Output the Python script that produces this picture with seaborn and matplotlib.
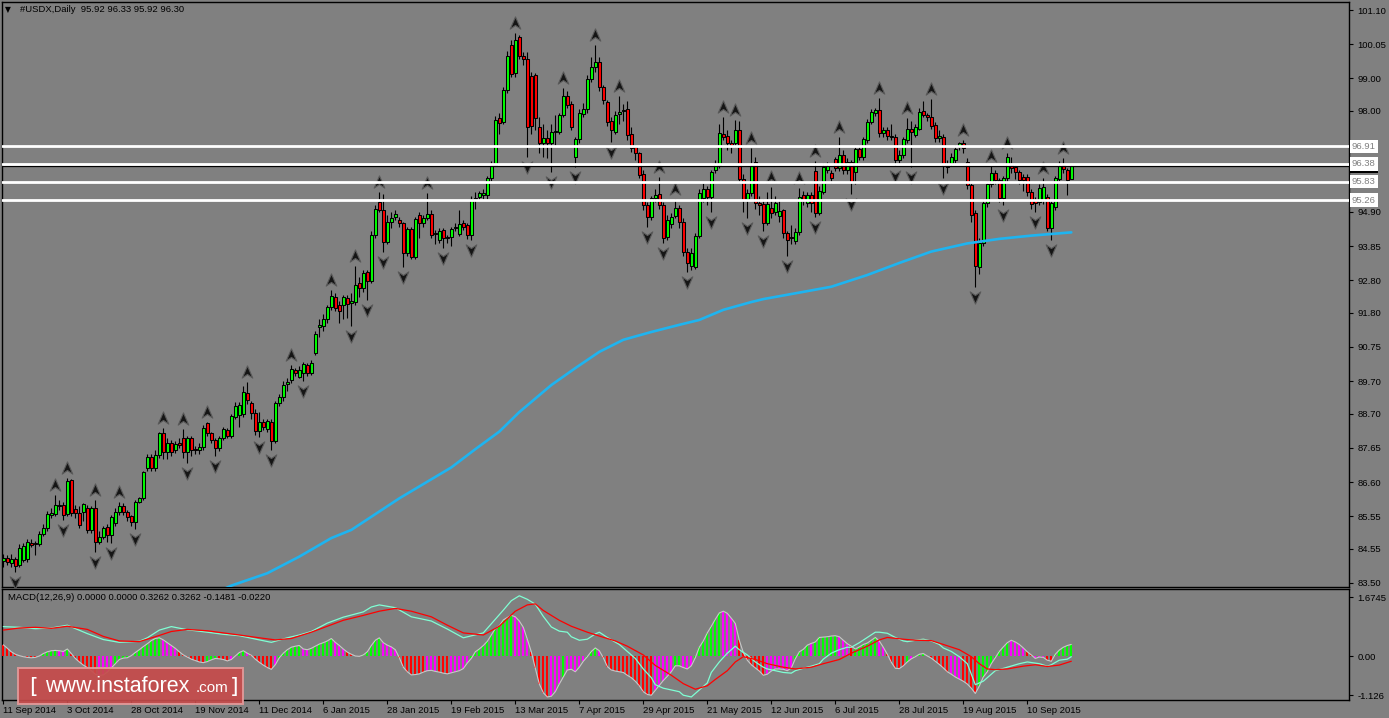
import numpy as np
import pandas as pd
import matplotlib
matplotlib.use("Agg")
import matplotlib.pyplot as plt
import matplotlib.transforms as mtransforms
from matplotlib.path import Path
from matplotlib.patches import Rectangle
import seaborn as sns

sns.set_theme(style="white")
plt.rcParams['font.family'] = ['Liberation Sans', 'DejaVu Sans']

# ---------------- data ----------------
symbol_title = "#USDX,Daily  95.92 96.33 95.92 96.30"
macd_title = "MACD(12,26,9) 0.0000 0.0000 0.3262 0.3262 -0.1481 -0.0220"

opens = [
84.19,84.26,84.10,84.23,84.05,84.21,84.23,84.74,84.72,84.70,
85.02,85.18,85.59,85.62,85.85,85.90,85.62,86.66,85.76,85.64,
85.69,85.79,85.13,85.79,84.77,84.92,85.23,84.97,85.33,85.69,
85.87,85.69,85.56,85.38,85.99,86.10,87.02,87.36,87.02,87.43,
88.12,87.53,87.81,87.58,87.81,87.94,87.53,87.94,87.63,87.58,
87.69,88.42,88.10,87.89,87.64,87.94,88.20,88.02,88.61,88.66,
88.69,89.35,89.02,88.71,88.18,88.46,88.22,88.46,87.87,89.02,
89.20,89.61,89.72,90.04,89.82,89.94,90.20,89.94,90.57,91.35,
91.39,91.60,91.99,92.30,92.04,92.04,92.24,92.11,92.14,92.71,
92.55,93.06,92.79,94.19,95.21,94.96,93.98,94.60,94.73,94.65,
94.55,93.63,94.36,93.52,94.80,94.55,94.70,94.83,94.22,94.04,
94.34,94.12,94.12,94.40,94.22,94.55,94.50,94.19,95.29,95.35,
95.42,95.42,95.93,96.34,97.77,97.67,98.64,100.03,99.16,100.28,
99.69,99.59,99.07,99.10,97.50,97.00,97.16,97.00,97.35,97.36,
97.87,98.46,98.21,96.60,97.13,97.90,98.05,98.97,99.36,99.51,
98.74,98.28,97.70,97.36,97.91,98.00,98.05,97.29,96.90,96.70,
96.06,95.11,94.75,95.32,95.45,95.11,94.14,94.53,94.77,95.01,
94.60,93.68,93.24,93.22,94.16,95.32,95.59,95.37,96.19,96.34,
97.29,97.23,97.03,97.00,97.41,95.90,95.29,95.49,96.44,95.18,
95.14,94.57,95.01,94.91,94.77,94.96,94.24,94.14,93.99,94.29,
95.42,95.16,95.42,96.15,94.85,95.52,96.20,96.08,96.51,96.24,
96.65,96.18,96.44,96.13,96.82,96.59,97.10,97.67,97.93,98.03,
97.31,97.41,97.20,97.19,96.50,96.65,97.11,97.46,97.26,97.46,
98.01,97.87,97.82,97.57,97.16,97.21,96.34,96.39,96.49,96.90,
97.00,96.44,95.72,94.85,93.22,93.93,95.16,95.75,96.10,95.88,
95.32,95.93,96.34,96.29,96.13,95.98,95.98,95.52,95.26,95.21,
95.26,95.36,94.39,95.06,95.90,96.34,96.18,95.92]

highs = [
84.40,84.35,84.40,84.30,84.70,84.72,84.85,84.85,84.80,85.10,
85.30,85.70,85.80,86.20,86.05,86.00,86.72,86.70,85.90,85.85,
85.95,85.90,85.85,86.05,85.10,85.25,85.30,85.60,85.80,86.00,
85.95,85.75,85.60,86.05,86.15,86.95,87.45,87.45,87.60,88.15,
88.25,87.95,87.90,87.85,87.95,88.22,88.00,88.00,87.70,87.80,
88.35,88.46,88.15,87.95,88.00,88.30,88.25,88.70,89.05,89.05,
89.55,89.68,89.10,88.85,88.75,88.55,88.55,88.55,89.10,89.30,
89.70,89.80,90.20,90.10,90.15,90.30,90.25,90.35,91.25,91.60,
91.75,92.05,92.50,92.40,92.15,92.35,92.35,92.40,93.24,92.90,
93.10,93.10,94.30,95.10,95.52,95.45,94.80,94.90,94.95,94.75,
94.60,94.45,94.45,94.75,94.90,94.80,95.47,94.95,94.35,94.40,
94.40,94.20,94.45,94.55,94.96,94.65,94.55,95.40,95.50,95.55,
95.60,96.00,96.45,97.85,97.95,98.75,99.85,100.18,100.38,100.33,
99.80,99.80,99.20,99.15,97.80,97.60,97.40,97.60,97.87,97.95,
98.70,98.60,98.30,97.20,98.05,98.25,99.10,99.67,100.03,99.65,
98.80,98.35,97.80,98.00,98.45,98.20,98.30,97.50,96.95,96.75,
96.20,95.20,95.40,95.60,95.98,95.20,94.80,94.85,95.30,95.10,
94.70,93.80,93.80,94.25,95.60,95.80,95.70,96.20,96.50,97.60,
97.80,97.40,97.10,97.72,97.70,96.05,95.60,96.85,96.60,95.40,
95.30,95.50,95.67,95.40,95.30,95.00,94.30,94.50,94.40,95.62,
95.55,95.50,95.50,96.45,95.70,96.40,96.42,96.20,96.60,97.21,
96.80,96.55,96.50,96.90,96.95,97.20,97.75,98.05,98.10,98.40,
97.50,97.50,97.60,97.30,96.80,97.20,97.78,97.70,97.60,98.10,
98.30,97.95,98.36,97.65,97.40,97.30,96.50,96.70,96.95,97.05,
97.12,96.55,95.80,94.95,94.10,95.30,95.85,96.30,96.20,95.95,
96.00,96.70,96.60,96.35,96.20,96.05,96.05,95.60,95.35,95.75,
95.95,95.45,95.25,96.00,96.45,96.54,96.25,96.33]

lows = [
84.00,84.05,84.00,83.85,84.00,84.15,84.15,84.60,84.36,84.65,
84.95,85.10,85.50,85.55,85.75,85.45,85.55,85.55,85.50,85.20,
85.40,85.05,85.05,84.46,84.70,84.85,84.75,84.72,85.25,85.60,
85.60,85.40,85.25,85.15,85.95,86.05,86.95,86.95,86.95,87.35,
87.30,87.30,87.40,87.50,87.65,87.35,87.18,87.40,87.45,87.45,
87.60,88.00,87.80,87.40,87.55,87.90,87.95,87.95,88.55,88.30,
88.60,89.00,88.55,88.05,87.98,88.20,88.15,87.60,87.80,88.95,
89.10,89.40,89.65,89.85,89.80,89.70,89.85,89.88,90.50,91.05,
91.25,91.50,91.90,91.85,91.50,91.60,91.65,91.40,92.05,92.30,
92.45,92.19,92.70,94.10,94.90,93.68,93.90,94.40,94.65,94.45,
93.22,93.55,93.45,93.45,94.10,94.45,94.65,94.10,93.90,93.95,
93.78,93.95,93.85,94.30,94.15,94.35,94.08,94.04,95.00,95.25,
95.30,95.30,95.85,96.30,97.30,97.60,98.55,99.05,99.05,99.60,
99.40,96.60,97.30,97.40,96.70,96.60,96.55,96.13,96.95,97.30,
97.80,98.10,97.40,96.29,97.00,97.80,97.95,98.90,99.20,98.60,
98.20,97.55,97.06,97.30,97.60,97.70,97.10,96.75,96.50,95.95,
94.95,94.45,94.65,95.20,95.00,93.95,94.05,94.40,94.70,94.40,
93.55,93.06,93.10,93.15,94.10,95.20,95.10,94.90,96.10,96.25,
97.10,96.80,96.70,96.90,95.80,94.90,94.70,95.40,95.00,94.80,
94.30,94.50,94.70,94.80,94.60,94.10,93.55,93.90,93.90,94.20,
95.10,95.05,94.90,94.75,94.80,95.45,96.10,95.80,96.15,96.15,
96.05,96.05,95.45,95.75,96.50,96.50,97.00,97.60,97.85,97.20,
97.20,97.10,97.10,96.30,96.40,96.55,97.00,96.29,97.20,97.40,
97.80,97.70,97.45,97.05,97.05,95.93,96.10,96.30,96.40,96.80,
96.70,95.60,94.60,92.60,93.00,93.85,95.05,95.65,95.75,95.20,
95.10,95.80,96.10,95.90,95.75,95.55,95.40,95.00,94.90,95.10,
95.15,94.30,94.05,94.95,95.85,96.10,95.42,95.92]

closes = [
84.27,84.16,84.23,84.02,84.59,84.64,84.77,84.68,84.71,85.02,
85.18,85.62,85.66,85.90,85.90,85.59,86.63,85.64,85.64,85.28,
85.94,85.13,85.79,84.77,84.92,85.18,84.97,85.54,85.69,85.87,
85.69,85.54,85.38,85.99,86.10,86.92,87.36,87.02,87.43,88.12,
87.53,87.81,87.53,87.77,87.73,87.53,87.94,87.58,87.58,87.69,
88.25,88.10,87.89,87.64,87.94,88.22,88.02,88.63,88.94,88.97,
89.38,89.12,88.71,88.18,88.46,88.30,88.49,87.87,89.02,89.20,
89.58,89.68,90.06,89.94,90.04,90.23,89.94,90.27,91.15,91.42,
91.60,91.99,92.32,91.94,91.84,92.27,92.07,92.17,92.65,92.55,
93.01,92.79,94.19,94.98,94.96,93.98,94.60,94.70,94.83,94.55,
93.63,94.36,93.52,94.67,94.55,94.70,94.83,94.19,94.26,94.32,
94.09,94.09,94.37,94.44,94.53,94.45,94.19,95.29,95.32,95.47,
95.47,95.93,96.34,97.72,97.62,98.64,99.69,99.13,100.18,99.69,
99.59,97.52,97.54,97.77,97.00,97.16,97.00,97.34,97.38,97.87,
98.46,98.18,97.50,97.13,97.95,98.05,98.97,99.34,99.51,98.74,
98.34,97.67,97.42,97.88,97.98,98.03,97.26,96.85,96.72,96.03,
95.11,94.75,95.32,95.42,95.11,94.09,94.65,94.75,95.01,94.60,
93.68,93.34,93.63,94.16,95.47,95.59,95.37,96.13,96.37,97.31,
97.21,97.00,96.95,97.41,95.90,95.27,95.49,96.34,95.16,95.11,
94.57,95.14,94.88,95.18,94.93,94.26,94.04,94.09,94.29,95.37,
95.26,95.42,95.16,94.85,95.55,96.29,96.31,95.93,96.24,96.65,
96.18,96.44,95.83,96.82,96.59,97.13,97.67,97.98,98.03,97.31,
97.41,97.23,97.24,96.49,96.65,97.13,97.46,97.36,97.52,97.98,
97.87,97.80,97.54,97.16,97.23,96.31,96.29,96.59,96.82,97.00,
96.85,95.72,94.80,93.24,93.95,95.16,95.75,96.10,95.88,95.32,
95.93,96.60,96.24,96.13,95.88,95.88,95.52,95.14,95.18,95.62,
95.67,94.39,95.16,95.93,96.31,96.21,95.88,96.30]

# Bill Williams fractals (bar numbers)
up_fractals = [13, 16, 23, 29, 40, 45, 51, 61, 72, 82, 88, 94, 106, 128, 140, 148,
               154, 164, 168, 180, 183, 187, 192, 199, 203, 209, 219, 226, 232,
               240, 247, 251, 260, 265]
down_fractals = [3, 15, 23, 27, 33, 46, 53, 64, 67, 75, 87, 91, 95, 100, 110, 117,
                 131, 137, 143, 152, 161, 165, 171, 177, 186, 190, 196, 203, 212,
                 223, 227, 235, 243, 250, 258, 262]

# moving average (bar, value)
ma_bars = [54, 57, 66, 74, 82, 87, 99, 112, 118, 124, 129, 137, 143, 149, 155, 162,
           169, 174, 180, 187, 190, 199, 207, 216, 224, 232, 241, 249, 257, 267]
ma_values = [83.25, 83.42, 83.80, 84.31, 84.88, 85.13, 86.10, 87.05, 87.61, 88.15,
             88.75, 89.58, 90.10, 90.60, 90.97, 91.21, 91.43, 91.58, 91.89, 92.13,
             92.22, 92.42, 92.60, 92.96, 93.33, 93.68, 93.93, 94.07, 94.17, 94.27]

level_prices = [96.91, 96.38, 95.83, 95.26]
level_labels = ["96.91", "96.38", "95.83", "95.26"]
bid_price = 96.30

price_ticks = [101.10, 100.05, 99.00, 98.00, 96.95, 95.90, 94.90, 93.85, 92.80, 91.80,
               90.75, 89.70, 88.70, 87.65, 86.60, 85.55, 84.55, 83.50]
hidden_price_ticks = [96.95, 95.90]   # covered by the level labels in the original
macd_ticks = [1.6745, 0.0, -1.126]
macd_tick_labels = ["1.6745", "0.00", "-1.126"]

date_labels = ["11 Sep 2014", "3 Oct 2014", "28 Oct 2014", "19 Nov 2014", "11 Dec 2014",
               "6 Jan 2015", "28 Jan 2015", "19 Feb 2015", "13 Mar 2015", "7 Apr 2015",
               "29 Apr 2015", "21 May 2015", "12 Jun 2015", "6 Jul 2015", "28 Jul 2015",
               "19 Aug 2015", "10 Sep 2015"]
bars_per_label = 16

# MACD histogram per bar
hist = [
0.32,0.22,0.12,0.05,0.01,-0.02,-0.04,-0.05,-0.04,0.00,
0.07,0.12,0.15,0.16,0.15,0.13,0.20,0.07,-0.07,-0.17,
-0.26,-0.33,-0.42,-0.52,-0.56,-0.54,-0.46,-0.34,-0.22,-0.10,
-0.06,-0.05,0.01,0.10,0.18,0.27,0.35,0.44,0.50,0.52,
0.46,0.38,0.30,0.22,0.12,0.03,-0.03,-0.09,-0.13,-0.17,
-0.19,-0.16,-0.11,-0.07,-0.08,-0.10,-0.14,-0.10,0.00,0.10,
0.15,0.08,0.02,-0.09,-0.18,-0.26,-0.33,-0.38,-0.25,-0.05,
0.08,0.18,0.25,0.28,0.30,0.20,0.18,0.22,0.28,0.34,
0.38,0.43,0.50,0.39,0.30,0.20,0.11,0.05,0.00,-0.01,
0.03,0.12,0.30,0.45,0.52,0.38,0.31,0.26,0.18,-0.05,
-0.32,-0.45,-0.54,-0.53,-0.51,-0.46,-0.42,-0.41,-0.44,-0.46,
-0.49,-0.51,-0.48,-0.45,-0.42,-0.36,-0.20,-0.07,0.12,0.20,
0.30,0.42,0.60,0.78,0.86,1.03,1.10,1.16,1.12,1.00,
0.82,0.48,0.12,-0.35,-0.80,-1.05,-1.17,-1.15,-1.02,-0.80,
-0.60,-0.40,-0.38,-0.45,-0.32,-0.15,-0.02,0.13,0.23,0.15,
-0.05,-0.30,-0.40,-0.43,-0.45,-0.47,-0.55,-0.62,-0.72,-0.85,
-1.02,-1.10,-1.12,-0.98,-0.84,-0.70,-0.58,-0.45,-0.28,-0.28,
-0.33,-0.37,-0.28,-0.05,0.25,0.43,0.66,0.85,1.05,1.23,
1.28,1.22,1.08,0.93,0.45,0.10,-0.12,-0.25,-0.34,-0.43,
-0.55,-0.52,-0.43,-0.37,-0.37,-0.38,-0.42,-0.34,-0.08,0.12,
0.19,0.31,0.36,0.40,0.53,0.54,0.55,0.57,0.58,0.55,
0.45,0.35,0.28,0.20,0.26,0.33,0.37,0.45,0.53,0.43,
0.25,0.05,-0.18,-0.35,-0.36,-0.28,-0.17,-0.08,-0.02,0.05,
0.07,0.00,-0.06,-0.15,-0.24,-0.34,-0.45,-0.52,-0.60,-0.66,
-0.72,-0.80,-0.92,-1.07,-0.86,-0.60,-0.45,-0.22,-0.05,0.13,
0.26,0.38,0.45,0.40,0.33,0.23,0.12,0.03,-0.07,-0.03,
-0.04,-0.12,-0.15,0.05,0.17,0.25,0.30,0.33]

# histogram colour state per bar as runs: g = rising, r = falling, m = mixed
hist_state_runs = [("r",10),("g",4),("m",2),("g",1),("r",7),("m",4),("g",12),("m",4),
    ("r",7),("g",3),("r",3),("m",1),("g",3),("m",1),("r",6),("m",1),("g",6),("m",2),
    ("g",6),("m",3),("r",4),("g",5),("m",4),("r",7),("m",3),("r",3),("m",5),("g",11),
    ("m",4),("r",5),("m",3),("g",1),("m",5),("g",3),("m",1),("r",13),("m",5),("g",2),
    ("m",3),("g",7),("m",4),("r",7),("m",7),("g",4),("m",1),("g",6),("m",3),("r",1),
    ("g",6),("m",2),("r",5),("g",1),("m",1),("g",3),("m",1),("r",5),("m",3),("r",4),
    ("g",8),("m",4),("r",2),("m",3),("r",2),("g",5)]

# MACD main line and signal line (bar, value)
macd_bars = [0,4,8,12,16,21,25,29,34,36,39,42,46,51,55,59,64,67,71,74,77,81,85,90,92,94,
    98,102,107,111,115,120,122,125,127,129,131,133,135,137,139,141,142,144,146,148,149,
    151,154,156,158,160,162,163,165,167,169,170,172,174,176,177,179,181,183,184,186,188,
    190,191,193,195,197,198,200,202,204,205,207,209,211,212,214,216,218,219,221,223,225,
    226,228,230,232,234,235,237,239,241,242,243,245,247,248,251,254,256,259,261,262,264,
    266,267]
macd_vals = [0.84,0.82,0.78,0.80,0.88,0.64,0.47,0.39,0.42,0.52,0.74,0.84,0.75,0.68,0.62,
    0.58,0.46,0.39,0.52,0.60,0.70,0.94,1.11,1.26,1.40,1.46,1.38,1.12,1.00,0.77,0.52,0.66,
    0.92,1.31,1.58,1.72,1.62,1.48,1.13,0.83,0.71,0.68,0.55,0.45,0.48,0.63,0.68,0.53,0.33,
    0.13,-0.07,-0.37,-0.62,-0.82,-0.92,-0.97,-1.02,-1.12,-1.17,-0.97,-0.77,-0.47,-0.17,
    0.08,0.28,0.18,0.03,-0.17,-0.32,-0.37,-0.42,-0.47,-0.49,-0.42,-0.35,-0.29,-0.22,-0.09,
    0.08,0.18,0.25,0.25,0.38,0.53,0.68,0.68,0.65,0.53,0.43,0.41,0.45,0.48,0.43,0.33,0.23,
    0.13,-0.02,-0.22,-0.52,-0.82,-0.72,-0.52,-0.42,-0.32,-0.22,-0.17,-0.22,-0.29,-0.25,
    -0.12,-0.09,-0.02]
signal_bars = [0,4,8,12,16,21,25,29,34,38,42,46,51,55,59,64,68,72,77,81,85,90,94,98,102,
    107,111,115,120,124,128,131,133,135,139,142,146,149,153,156,160,163,167,170,173,176,
    178,181,183,185,188,191,195,198,202,205,209,212,216,219,221,225,228,232,235,239,242,
    244,246,248,251,255,258,261,264,267]
signal_vals = [0.74,0.80,0.82,0.79,0.85,0.76,0.56,0.43,0.41,0.55,0.70,0.76,0.72,0.66,0.60,
    0.52,0.46,0.50,0.68,0.85,1.02,1.16,1.28,1.36,1.28,1.12,0.88,0.66,0.60,0.85,1.28,1.46,
    1.49,1.30,1.02,0.85,0.68,0.57,0.43,0.28,0.03,-0.27,-0.55,-0.79,-0.95,-0.85,-0.67,
    -0.42,-0.17,-0.02,-0.10,-0.22,-0.32,-0.37,-0.32,-0.22,-0.10,0.08,0.28,0.46,0.53,0.48,
    0.45,0.44,0.33,0.18,-0.02,-0.22,-0.37,-0.39,-0.37,-0.29,-0.25,-0.30,-0.26,-0.15]

# ---------------- styling ----------------
W, H = 1389, 718
BG = "#808080"
BULL, BEAR = "#00ff00", "#ff0000"
state_colors = {"g": "#00ff00", "r": "#ff0000", "m": "#ff00ff"}
FS = 6.8

n = len(closes)
bars = np.arange(n)
df = pd.DataFrame({"bar": bars, "open": opens, "high": highs, "low": lows, "close": closes})

fig = plt.figure(figsize=(W / 100, H / 100), dpi=100, facecolor=BG)

def px_rect(left, top, right, bottom):
    return [left / W, 1 - bottom / H, (right - left) / W, (bottom - top) / H]

ax = fig.add_axes(px_rect(2, 1.5, 1349, 587))
ax2 = fig.add_axes(px_rect(2, 589, 1349, 700))

x_left = -0.33
x_right = (1349 - 3.3) / 4.0
for a in (ax, ax2):
    a.set_facecolor(BG)
    a.set_xlim(x_left, x_right)
    for s in a.spines.values():
        s.set_color("black")
        s.set_linewidth(1.0)
        s.set_visible(True)

px_per_price = 573 / 17.6
ax.set_ylim(83.50 - 4 / px_per_price, 101.10 + 8.5 / px_per_price)
ax2.set_ylim(-44 / 35.0, 67 / 35.0)

# ---------------- candles ----------------
ax.vlines(df["bar"], df["low"], df["high"], color="black", linewidth=0.8, zorder=3)
body_lo = np.minimum(df["open"], df["close"])
body_h = np.maximum(np.abs(df["close"] - df["open"]), 0.025)
body_col = np.where(df["close"] >= df["open"], BULL, BEAR)
ax.bar(df["bar"], body_h, bottom=body_lo, width=0.62, color=body_col,
       edgecolor="black", linewidth=0.75, zorder=4)

# ---------------- fractals ----------------
up_marker = Path([(0, 1.0), (0.8, -0.85), (0, -0.3), (-0.8, -0.85), (0, 1.0)],
                 [Path.MOVETO, Path.LINETO, Path.LINETO, Path.LINETO, Path.CLOSEPOLY])
down_marker = Path([(0, -1.0), (0.8, 0.85), (0, 0.3), (-0.8, 0.85), (0, -1.0)],
                   [Path.MOVETO, Path.LINETO, Path.LINETO, Path.LINETO, Path.CLOSEPOLY])
off = 10 / px_per_price
ax.plot(up_fractals, [highs[i] + off for i in up_fractals], linestyle="none",
        marker=up_marker, markersize=9.5, markerfacecolor="#151515",
        markeredgecolor="#5a5a5a", markeredgewidth=0.8, zorder=5)
ax.plot(down_fractals, [lows[i] - off for i in down_fractals], linestyle="none",
        marker=down_marker, markersize=9.5, markerfacecolor="#151515",
        markeredgecolor="#5a5a5a", markeredgewidth=0.8, zorder=5)

# ---------------- moving average ----------------
sns.lineplot(x=ma_bars, y=ma_values, ax=ax, color="#1eb4f0", linewidth=1.9,
             estimator=None, sort=False, zorder=6, legend=False)

# ---------------- levels ----------------
ytrans = mtransforms.blended_transform_factory(ax.transAxes, ax.transData)
ax.axhline(bid_price, color="black", linewidth=0.9, zorder=6)
ax.text(1.0022, bid_price, f"{bid_price:.2f}", transform=ytrans, ha="left", va="center",
        fontsize=FS, color="white", clip_on=False, zorder=7,
        bbox=dict(boxstyle="square,pad=0.25", fc="black", ec="none"))
for lv, lab in zip(level_prices, level_labels):
    ax.axhline(lv, color="white", linewidth=2.0, zorder=7)
    ax.text(1.0022, lv, lab, transform=ytrans, ha="left", va="center", fontsize=FS,
            color="#808080", clip_on=False, zorder=8,
            bbox=dict(boxstyle="square,pad=0.25", fc="white", ec="none"))

# ---------------- axes ticks ----------------
ax.yaxis.tick_right()
ax.set_yticks(price_ticks)
ax.set_yticklabels(["" if t in hidden_price_ticks else f"{t:.2f}" for t in price_ticks])
ax.tick_params(axis="y", direction="out", length=3, width=0.8, color="black",
               labelsize=FS, labelcolor="black", pad=3, right=True, left=False)
ax.set_xticks([])
ax.set_ylabel("")
ax.set_xlabel("")

# ---------------- MACD panel ----------------
hist_states = "".join(s * k for s, k in hist_state_runs)
hist_cols = [state_colors[s] for s in hist_states]
ax2.bar(bars, hist, width=0.5, color=hist_cols, linewidth=0, zorder=3)
ax2.plot(bars, hist, color="#c8c8c8", linewidth=0.8, zorder=4)
sns.lineplot(x=macd_bars, y=macd_vals, ax=ax2, color="#7fffd4", linewidth=0.9,
             estimator=None, sort=False, zorder=5, legend=False)
sns.lineplot(x=signal_bars, y=signal_vals, ax=ax2, color="#ff0000", linewidth=0.9,
             estimator=None, sort=False, zorder=6, legend=False)

ax2.yaxis.tick_right()
ax2.set_yticks(macd_ticks)
ax2.set_yticklabels(macd_tick_labels)
ax2.tick_params(axis="y", direction="out", length=3, width=0.8, color="black",
                labelsize=FS, labelcolor="black", pad=3, right=True, left=False)
xt = [k * bars_per_label for k in range(len(date_labels))]
ax2.set_xticks(xt)
ax2.set_xticklabels(date_labels)
ax2.tick_params(axis="x", direction="out", length=3, width=0.8, color="black",
                labelsize=FS, labelcolor="black", pad=1.5, bottom=True)
for lbl in ax2.get_xticklabels():
    lbl.set_ha("left")
ax2.set_ylabel("")
ax2.set_xlabel("")
ax2.text(6 / 1347, 1 - 9 / 111, macd_title, transform=ax2.transAxes, ha="left",
         va="center", fontsize=FS, color="black", zorder=8)

# ---------------- titles ----------------
fig.text(8 / W, 1 - 10 / H, "\u25bc", fontsize=5.5, color="black", ha="center",
         va="center", family=["DejaVu Sans"])
fig.text(20 / W, 1 - 10 / H, symbol_title, fontsize=FS, color="black", ha="left",
         va="center")

# ---------------- watermark ----------------
logo = Rectangle((18 / W, 1 - 704 / H), 225 / W, 36 / H, transform=fig.transFigure,
                 facecolor="#c64b4b", edgecolor="#e39a9a", linewidth=1.4, alpha=0.92,
                 zorder=20)
fig.patches.append(logo)
fig.text(33 / W, 1 - 687 / H, "[", fontsize=16, color="white", ha="center",
         va="center", zorder=21, family=["DejaVu Sans"])
fig.text(45 / W, 1 - 687 / H, "www.instaforex", fontsize=15.5, color="white",
         ha="left", va="center", zorder=21)
fig.text(196 / W, 1 - 688 / H, ".com", fontsize=11, color="white", ha="left",
         va="center", zorder=21)
fig.text(234 / W, 1 - 687 / H, "]", fontsize=16, color="white", ha="center",
         va="center", zorder=21, family=["DejaVu Sans"])

fig.savefig("out.png", dpi=100, facecolor=BG)
